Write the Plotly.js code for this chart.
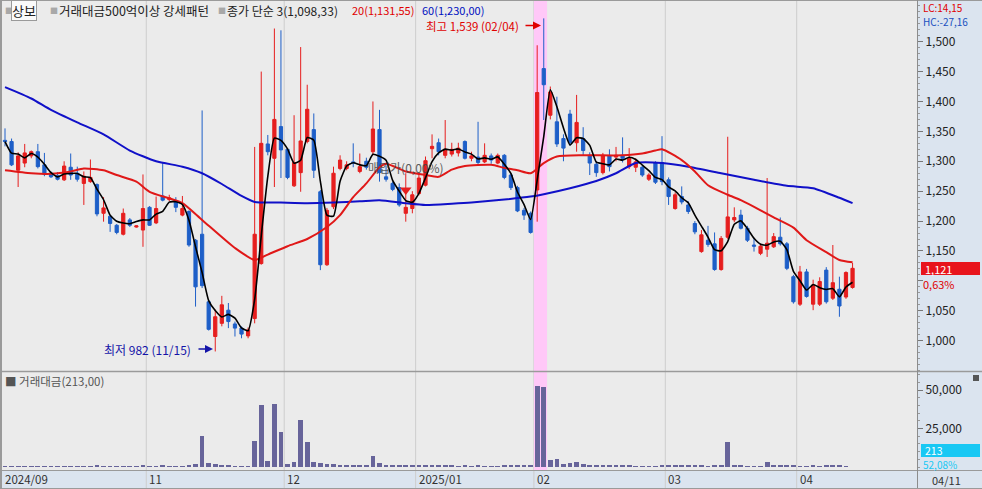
<!DOCTYPE html>
<html><head><meta charset="utf-8">
<script src="https://cdn.plot.ly/plotly-3.0.1.min.js"></script>
<style>html,body{margin:0;padding:0;background:#fff;}#chart{width:982px;height:489px;}</style>
</head><body><div id="chart"></div>
<script>
// ---------------- DATA ----------------
const openP  = [1335,1333,1285,1297,1309,1316,1294,1280,1276,1269,1290,1280,1263,1266,1261,1213,1208,1193,1178,1202,1190,1185,1223,1197,1242,1236,1234,1210,1216,1168,1178,1065,1007,1029,1051,1028,1021,1008,1037,1129,1329,1305,1358,1320,1259,1281,1333,1353,1249,1127,1224,1288,1288,1299,1283,1300,1316,1353,1274,1263,1256,1213,1221,1246,1260,1321,1331,1310,1312,1314,1333,1305,1307,1299,1309,1297,1310,1277,1256,1218,1213,1252,1455,1377,1366,1338,1379,1331,1338,1310,1295,1281,1309,1307,1310,1291,1290,1290,1270,1298,1298,1269,1221,1241,1227,1196,1149,1168,1162,1119,1173,1202,1210,1188,1160,1146,1153,1157,1173,1162,1107,1061,1115,1061,1061,1118,1071,1086,1073,1089];
const highP  = [1355,1338,1315,1329,1318,1329,1314,1283,1282,1300,1313,1291,1283,1303,1263,1240,1210,1195,1221,1205,1193,1278,1225,1241,1297,1244,1240,1242,1218,1170,1385,1068,1052,1075,1063,1032,1024,1022,1324,1450,1344,1522,1519,1322,1377,1491,1428,1380,1252,1222,1291,1310,1300,1330,1313,1306,1400,1386,1293,1266,1263,1280,1250,1280,1308,1345,1338,1369,1331,1331,1335,1316,1366,1330,1313,1313,1312,1280,1259,1222,1216,1494,1539,1425,1408,1345,1386,1411,1357,1315,1300,1314,1320,1324,1340,1322,1305,1293,1280,1300,1342,1273,1248,1258,1233,1200,1185,1192,1181,1175,1341,1223,1219,1192,1172,1162,1272,1180,1206,1165,1110,1125,1120,1102,1106,1123,1160,1107,1116,1130];
const lowP   = [1325,1292,1257,1290,1305,1288,1275,1272,1268,1267,1269,1266,1227,1264,1208,1199,1182,1178,1176,1190,1189,1157,1192,1195,1233,1233,1215,1208,1157,1057,1088,1017,982,1024,1021,1007,1004,1004,1029,1127,1310,1257,1272,1270,1257,1249,1330,1272,1118,1125,1220,1285,1285,1290,1280,1286,1310,1266,1266,1250,1224,1199,1213,1243,1258,1305,1310,1305,1308,1308,1303,1300,1295,1297,1296,1295,1270,1252,1215,1202,1179,1199,1369,1370,1324,1300,1326,1316,1310,1277,1274,1278,1283,1300,1298,1287,1282,1274,1267,1262,1260,1227,1219,1228,1212,1178,1147,1157,1117,1117,1170,1198,1186,1165,1149,1143,1140,1155,1159,1118,1062,1058,1072,1051,1058,1062,1068,1040,1070,1087];
const closeP = [1333,1294,1309,1314,1316,1291,1278,1274,1270,1292,1277,1270,1275,1273,1212,1222,1196,1181,1213,1193,1192,1221,1193,1221,1235,1239,1223,1221,1160,1090,1092,1019,1040,1060,1032,1021,1011,1018,1178,1330,1316,1370,1319,1273,1298,1334,1387,1285,1127,1218,1280,1302,1294,1297,1291,1290,1354,1281,1270,1253,1227,1223,1244,1272,1301,1325,1316,1320,1320,1322,1305,1309,1298,1310,1302,1310,1273,1256,1217,1210,1181,1415,1428,1416,1329,1322,1331,1365,1318,1297,1281,1310,1291,1310,1305,1305,1299,1277,1277,1265,1266,1241,1244,1232,1216,1182,1177,1161,1119,1171,1207,1206,1188,1168,1158,1158,1163,1174,1162,1121,1065,1115,1074,1093,1099,1065,1097,1058,1114,1121];
const tradeValue = [600,700,600,500,450,500,450,400,400,500,500,450,600,500,1300,700,600,500,700,500,400,1300,600,700,1200,500,600,700,1500,2200,20100,2300,1700,1300,1100,900,700,800,16900,40200,3900,40900,22900,2200,3400,30500,16000,3400,2400,2000,1700,1400,1300,1100,1000,1000,7300,2400,1500,1200,1100,1000,1000,1000,1000,1100,1000,1500,1200,900,1000,800,1000,900,900,800,1100,1100,1000,1000,1300,52800,52100,4500,5000,1700,2400,3400,1800,1100,1000,1000,1000,1000,1500,1000,900,800,800,600,1500,1000,1000,1000,1000,1000,1000,900,1000,1200,16400,1500,1100,700,600,900,3400,1000,1000,1000,1000,800,700,1100,700,1000,1500,1200,900,213];
// moving-average lines (day index, value)
const ma20Day = [0,4,7,10,12,15,17,20,22,25,27,30,35,38,40,43,46,49,51,53,55,57,58,61,64,66,68,70,74,76,78,80,82,84,88,94,97,99,100,103,105,107,110,112,115,117,120,122,125,127,129];
const ma20Val = [1285,1280,1279,1283,1288,1285,1277,1266,1249,1238,1230,1202,1155,1135,1144,1158,1170,1190,1210,1240,1263,1290,1296,1283,1277,1274,1286,1292,1294,1289,1285,1280,1297,1308,1310,1310,1313,1318,1320,1302,1283,1260,1244,1235,1218,1206,1189,1168,1148,1135,1131];
const ma60Day = [0,4,7,11,15,19,23,27,30,33,36,38,42,46,50,54,57,61,64,68,71,76,80,82,86,90,93,96,100,104,109,114,119,123,127,129];
const ma60Val = [1424,1405,1386,1365,1345,1318,1300,1291,1280,1262,1242,1232,1231,1230,1231,1233,1235,1230,1227,1229,1231,1236,1241,1245,1255,1267,1280,1297,1297,1291,1280,1269,1259,1255,1239,1230];
const monthStart = [0,22,43,63,81,101,121];
const monthLabel = ['2024/09','11','12','2025/01','02','03','04'];
const priceTicks = [1000,1050,1100,1150,1200,1250,1300,1350,1400,1450,1500];
const priceTickText = ['1,000','1,050','','1,150','1,200','1,250','1,300','1,350','1,400','1,450','1,500'];
const volTicks = [25000,50000];
const volTickText = ['25,000','50,000'];
const buyDay = 61, buyPrice = 1252;
const highDay = [81,82];

// ---------------- LAYOUT HELPERS ----------------
const W=982,H=489,L=2,R=65,T=0,B=19;
const PW=W-L-R, PH=H-T-B;
const px = v => (v-L)/PW;
const py = v => 1-(v-T)/PH;
const RED='#e61e1e', BLUE='#1e5fc8', MA60C='#1010c8', VOLC='#67649a';
const FONT='"Noto Sans CJK KR","Noto Sans",sans-serif';
const idx = closeP.map((_,i)=>i);
const ma3 = closeP.map((c,i)=>{const s=closeP.slice(Math.max(0,i-2),i+1);return s.reduce((a,b)=>a+b,0)/s.length;});

const traces = [
 {type:'candlestick', x:idx, open:openP, high:highP, low:lowP, close:closeP, xaxis:'x', yaxis:'y',
  increasing:{line:{color:RED,width:1},fillcolor:RED}, decreasing:{line:{color:BLUE,width:1},fillcolor:BLUE},
  whiskerwidth:0, hoverinfo:'skip', showlegend:false},
 {type:'scatter', mode:'lines', x:ma60Day, y:ma60Val, line:{color:MA60C,width:2,shape:'spline',smoothing:0.6}, hoverinfo:'skip', showlegend:false},
 {type:'scatter', mode:'lines', x:ma20Day, y:ma20Val, line:{color:'#e01818',width:2,shape:'spline',smoothing:0.6}, hoverinfo:'skip', showlegend:false},
 {type:'scatter', mode:'lines', x:idx, y:ma3, line:{color:'#000',width:1.6,shape:'spline',smoothing:0.5}, hoverinfo:'skip', showlegend:false},
 {type:'scatter', mode:'markers', x:[buyDay], y:[buyPrice], marker:{symbol:'triangle-down',size:10,color:RED}, hoverinfo:'skip', showlegend:false},
 {type:'bar', x:idx, y:tradeValue, xaxis:'x', yaxis:'y2', width:0.72, marker:{color:VOLC,line:{width:0}}, hoverinfo:'skip', showlegend:false}
];

const shapes = [];
monthStart.slice(1).forEach(m=>{
  shapes.push({type:'line',xref:'x',yref:'paper',x0:m-0.5,x1:m-0.5,y0:py(489),y1:1,line:{color:'#cdcdcd',width:1},layer:'below'});
});
shapes.push({type:'rect',xref:'x',yref:'paper',x0:highDay[0]-0.5,x1:highDay[1]+0.5,y0:py(470),y1:1,fillcolor:'#ffc8f8',line:{width:0},layer:'below'});
shapes.push({type:'rect',xref:'paper',yref:'paper',x0:px(0),x1:px(2),y0:py(489),y1:py(0),fillcolor:'#9a9a9a',line:{width:0},layer:'above'});
shapes.push({type:'line',xref:'paper',yref:'paper',x0:px(0),x1:px(982),y0:py(0.5),y1:py(0.5),line:{color:'#9a9a9a',width:1},layer:'above'});
shapes.push({type:'line',xref:'paper',yref:'paper',x0:px(0),x1:px(982),y0:py(371.5),y1:py(371.5),line:{color:'#9a9a9a',width:1.5},layer:'above'});
shapes.push({type:'line',xref:'paper',yref:'paper',x0:px(0),x1:px(982),y0:py(470.5),y1:py(470.5),line:{color:'#9a9a9a',width:1},layer:'above'});
shapes.push({type:'line',xref:'paper',yref:'paper',x0:px(917.5),x1:px(917.5),y0:py(489),y1:py(0),line:{color:'#8c8c8c',width:1},layer:'above'});
shapes.push({type:'line',xref:'paper',yref:'paper',x0:px(0),x1:px(982),y0:py(488.5),y1:py(488.5),line:{color:'#9a9a9a',width:1},layer:'above'});
shapes.push({type:'rect',xref:'paper',yref:'paper',x0:px(921),x1:px(980),y0:py(275),y1:py(262),fillcolor:'#e8141c',line:{width:0},layer:'above'});
shapes.push({type:'rect',xref:'paper',yref:'paper',x0:px(921),x1:px(980),y0:py(457),y1:py(444),fillcolor:'#18c8f4',line:{width:0},layer:'above'});
shapes.push({type:'rect',xref:'paper',yref:'paper',x0:px(973),x1:px(979),y0:py(381),y1:py(375),fillcolor:'#555',line:{width:0},layer:'above'});

const ann = [];
function txt(x,y,text,color,size,anchor,extra){
  ann.push(Object.assign({xref:'paper',yref:'paper',x:px(x),y:py(y),text:text,showarrow:false,xanchor:anchor||'left',yanchor:'middle',
    font:{family:FONT,size:size||11,color:color||'#222'}},extra||{}));
}
txt(3,11,'■','#a8a8a8',8);
txt(11,11,'상보','#222',13,'left',{bgcolor:'#fafafa',bordercolor:'#9a9a9a',borderwidth:1,borderpad:0});
txt(48,11,'■','#a8a8a8',8);
txt(57,11,'거래대금500억이상 강세패턴','#222',12.5);
txt(216,11,'■','#a8a8a8',8);
txt(225,11,'종가 단순 3(1,098,33)','#222',12);
txt(350,10.5,'20(1,131,55)','#e00000',11);
txt(420,10,'60(1,230,00)','#0010c0',11);
txt(521,25.5,'최고 1,539 (02/04)','#e00000',11.5,'right');
ann.push({xref:'paper',yref:'paper',x:px(541),y:py(25.5),ax:-17,ay:0,text:'',showarrow:true,arrowhead:2,arrowsize:1,arrowwidth:1.6,arrowcolor:'#e00000'});
txt(193,349,'최저 982 (11/15)','#1414a8',12,'right');
ann.push({xref:'paper',yref:'paper',x:px(213),y:py(349),ax:-16,ay:0,text:'',showarrow:true,arrowhead:2,arrowsize:1,arrowwidth:1.6,arrowcolor:'#1414a8'});
ann.push({xref:'x',yref:'y',x:54.9,y:1289,text:'매입가(0,00%)',showarrow:false,xanchor:'left',yanchor:'middle',font:{family:FONT,size:12,color:'#444'},opacity:0.85});
txt(921,7.5,'LC:14,15','#e00000',10);
txt(921,21.5,'HC:-27,16','#1a50c0',10);
txt(923,268.5,'1,121','#fff',11);
txt(921,284,'0,63%','#e00000',11);
txt(923,450,'213','#fff',10.5);
txt(921,464,'52,08%','#18c8f4',10);
txt(3,381,'■ 거래대금(213,00)','#555',11.5);
txt(930,480,'04/11','#333',11);
monthStart.forEach((m,k)=>{
  ann.push({xref:'x',yref:'paper',x:Math.max(m-0.5,-0.45),y:py(479.5),xshift:1,text:monthLabel[k],showarrow:false,xanchor:'left',yanchor:'middle',font:{family:FONT,size:11.5,color:'#333'}});
});

const layout = {
  width:W,height:H,margin:{l:L,r:R,t:T,b:B,pad:0},
  paper_bgcolor:'#dbe4ef', plot_bgcolor:'#ebebeb',
  font:{family:FONT,size:11,color:'#222'},
  showlegend:false, boxgap:0.3, bargap:0,
  xaxis:{domain:[0,1],range:[-0.457,138.81],showgrid:false,zeroline:false,showticklabels:false,ticks:'',showline:false,rangeslider:{visible:false},fixedrange:true},
  yaxis:{domain:[py(371),1],range:[949.3,1569.7],side:'right',tickmode:'array',tickvals:priceTicks,ticktext:priceTickText,
    ticks:'outside',ticklen:5,tickcolor:'#777',showgrid:false,zeroline:false,showline:false,
    minor:{tickmode:'linear',tick0:0,dtick:10,ticks:'outside',ticklen:2,tickcolor:'#999'},
    tickfont:{family:FONT,size:12,color:'#222'},fixedrange:true},
  yaxis2:{domain:[0,py(372)],range:[-1950,61700],side:'right',anchor:'x',tickmode:'array',tickvals:volTicks,ticktext:volTickText,
    ticks:'outside',ticklen:5,tickcolor:'#777',showgrid:false,zeroline:false,showline:false,
    minor:{tickmode:'linear',tick0:0,dtick:5000,ticks:'outside',ticklen:2,tickcolor:'#999'},
    tickfont:{family:FONT,size:12,color:'#222'},fixedrange:true},
  shapes:shapes, annotations:ann
};
Plotly.newPlot('chart',traces,layout,{displayModeBar:false,staticPlot:true});
</script></body></html>
